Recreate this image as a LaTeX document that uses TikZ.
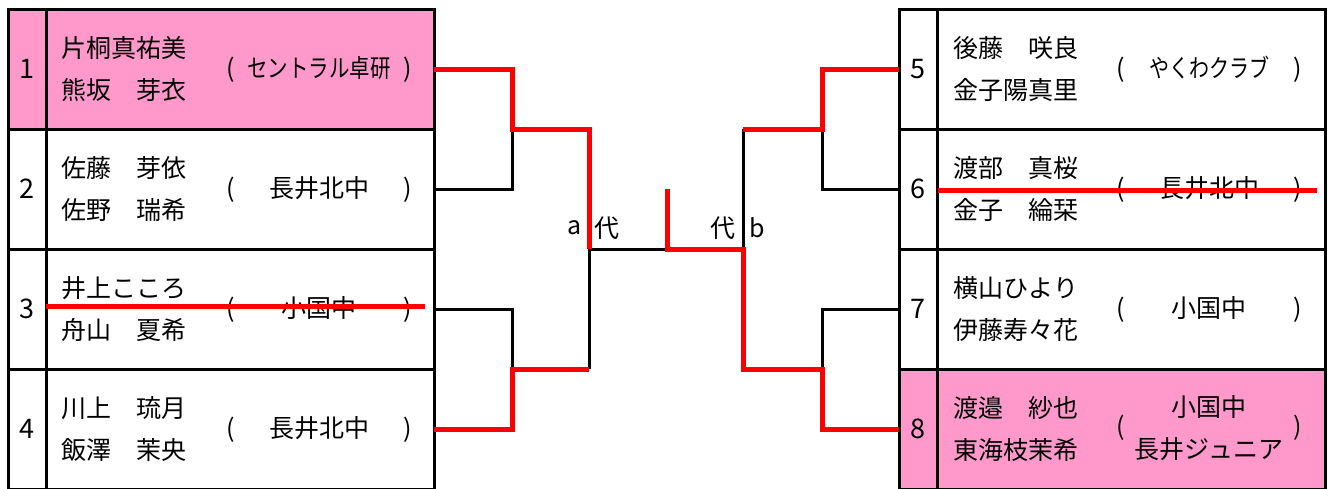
\documentclass[tikz,border=0pt]{standalone}
\usepackage{fontspec}
\usepackage{graphicx}
\setmainfont{Noto Sans CJK JP}
\usetikzlibrary{positioning,calc}
\definecolor{seedpink}{HTML}{FF99CC}
\definecolor{winred}{HTML}{FF0000}

\begin{document}
\begin{tikzpicture}[
  x=1pt, y=-1pt,
  font=\fontsize{25}{42}\selectfont,
  numcell/.style={draw=black,line width=3pt,minimum width=38pt,minimum height=120pt,
                  inner sep=0pt,outer sep=0pt,font=\fontsize{27}{42}\selectfont},
  entcell/.style={numcell,minimum width=388pt},
  seeded/.style={fill=seedpink},
  names/.style={align=center,inner sep=0pt},
  team/.style={inner sep=0pt},
  lost/.style={draw=black,line width=3pt},
  won/.style={draw=winred,line width=5pt},
  strike/.style={draw=winred,line width=5pt}
  ]

  \useasboundingbox (0,0) rectangle (1328,488);
  \clip (0,0) rectangle (1328,488);

  % left block
  \node (num1) [numcell,seeded] at (27,69) {1};
  \node (num2) [numcell,below=0pt of num1] {2};
  \node (num3) [numcell,below=0pt of num2] {3};
  \node (num4) [numcell,below=0pt of num3] {4};
  \node (ent1) [entcell,seeded,right=0pt of num1] {};
  \node (ent2) [entcell,right=0pt of num2] {};
  \node (ent3) [entcell,right=0pt of num3] {};
  \node (ent4) [entcell,right=0pt of num4] {};

  % right block
  \node (num5) [numcell] at (918,69) {5};
  \node (num6) [numcell,below=0pt of num5] {6};
  \node (num7) [numcell,below=0pt of num6] {7};
  \node (num8) [numcell,seeded,below=0pt of num7] {8};
  \node (ent5) [entcell,right=0pt of num5] {};
  \node (ent6) [entcell,right=0pt of num6] {};
  \node (ent7) [entcell,right=0pt of num7] {};
  \node (ent8) [entcell,seeded,right=0pt of num8] {};

  % players
  \node (nm1) [names] at ([xshift=78]ent1.west) {片桐真祐美\\熊坂　芽衣};
  \node (nm2) [names] at ([xshift=78]ent2.west) {佐藤　芽依\\佐野　瑞希};
  \node (nm3) [names] at ([xshift=78]ent3.west) {井上こころ\\舟山　夏希};
  \node (nm4) [names] at ([xshift=78]ent4.west) {川上　琉月\\飯澤　茉央};
  \node (nm5) [names] at ([xshift=79]ent5.west) {後藤　咲良\\金子陽真里};
  \node (nm6) [names] at ([xshift=79]ent6.west) {渡部　真桜\\金子　綸栞};
  \node (nm7) [names] at ([xshift=79]ent7.west) {横山ひより\\伊藤寿々花};
  \node (nm8) [names] at ([xshift=79]ent8.west) {渡邉　紗也\\東海枝茉希};

  % clubs
  \node (tm1) [team] at ([xshift=273]ent1.west)
     {\makebox[186pt]{(\hfill\scalebox{0.82}[1]{セントラル卓研}\hfill)}};
  \node (tm2) [team] at ([xshift=273]ent2.west) {\makebox[186pt]{(\hfill 長井北中\hfill)}};
  \node (tm3) [team] at ([xshift=273]ent3.west) {\makebox[186pt]{(\hfill 小国中\hfill)}};
  \node (tm4) [team] at ([xshift=273]ent4.west) {\makebox[186pt]{(\hfill 長井北中\hfill)}};
  \node (tm5) [team] at ([xshift=272]ent5.west)
     {\makebox[186pt]{(\hfill\scalebox{0.8}[1]{やくわクラブ}\hfill)}};
  \node (tm6) [team] at ([xshift=272]ent6.west) {\makebox[186pt]{(\hfill 長井北中\hfill)}};
  \node (tm7) [team] at ([xshift=272]ent7.west) {\makebox[186pt]{(\hfill 小国中\hfill)}};
  \node (tm8) [team] at ([xshift=272]ent8.west)
     {\makebox[186pt]{(\hfill\begin{tabular}{@{}c@{}}小国中\\長井ジュニア\end{tabular}\hfill)}};

  % withdrawn pairs
  \path [strike] ([yshift=3]ent3.west) -- ([xshift=-9,yshift=3]ent3.east);
  \path [strike] ([xshift=1,yshift=-1]ent6.west) -- ([xshift=-8,yshift=-1]ent6.east);

  % bracket
  \coordinate (sfL1) at (512,129);
  \coordinate (sfL2) at (512,369);
  \coordinate (fL) at (589,249);
  \coordinate (fR) at (743,249);
  \coordinate (sfR1) at (822,129);
  \coordinate (sfR2) at (822,369);
  \coordinate (champ) at (667,189);

  \path [lost] (ent2.east) -| (sfL1);
  \path [lost] (ent3.east) -| (sfL2);
  \path [lost] (sfL2 -| fL) -- (fL) -- (fL -| champ);
  \path [lost] (num6.west) -| (sfR1);
  \path [lost] (num7.west) -| (sfR2);
  \path [lost] (fR) -- (fR |- sfR1);

  \path [won] (ent1.east) -| (sfL1) -| (fL);
  \path [won] (ent4.east) -| (sfL2) -- (sfL2 -| fL);
  \path [won] (num5.west) -| (sfR1) -- (sfR1 -| fR);
  \path [won] (champ) |- (fR) |- (sfR2) |- (num8.west);

  \node (lblA) at ([xshift=-14,yshift=21]fL) {a};
  \node (subA) at ([xshift=18,yshift=21]fL) {代};
  \node (subB) at ([xshift=-20,yshift=21]fR) {代};
  \node (lblB) at ([xshift=14,yshift=21]fR) {b};
\end{tikzpicture}
\end{document}
